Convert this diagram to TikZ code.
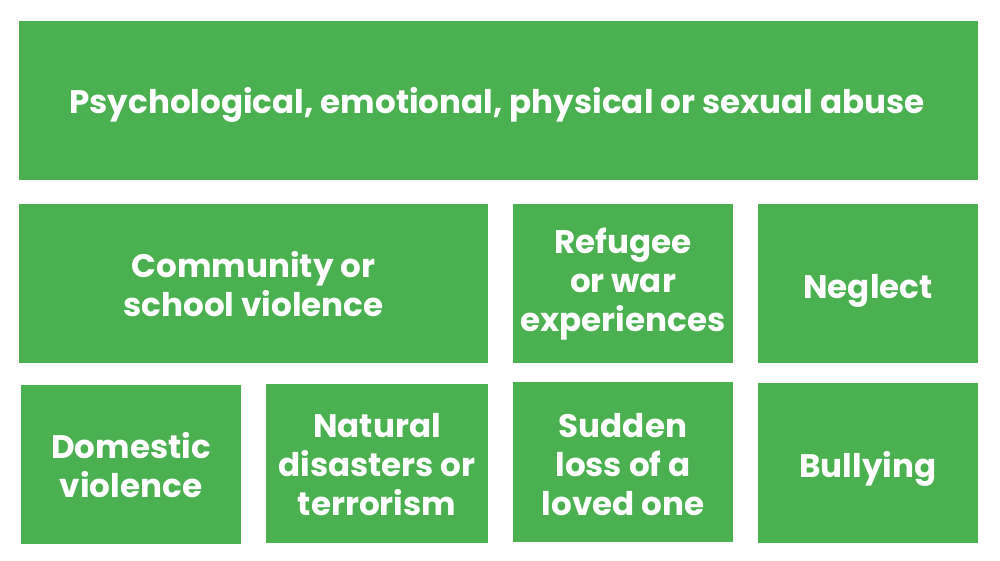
\documentclass[tikz,border=0pt]{standalone}
\usepackage{fontspec}
\setmainfont{Poppins}
\definecolor{boxgreen}{HTML}{4AB050}
\begin{document}
\begin{tikzpicture}[x=1pt,y=-1pt,
  cell/.style={fill=boxgreen,draw=none,inner sep=0pt},
  lbl/.style={text=white,font=\bfseries\fontsize{32.6}{39}\selectfont,align=center}]
\useasboundingbox (0,0) rectangle (1000,561);
\fill[boxgreen] (19,21) rectangle (978,180.5);
\node[lbl] (t1) at (497,105) {Psychological, emotional, physical or sexual abuse};
\fill[boxgreen] (19,204) rectangle (488,363);
\node[lbl] (t2) at (253.5,284) {Community or\\school violence};
\fill[boxgreen] (513,204) rectangle (733,363);
\node[lbl] (t3) at (623,284) {Refugee\\or war\\experiences};
\fill[boxgreen] (758,204) rectangle (978,363);
\node[lbl] (t4) at (868,291) {Neglect};
\fill[boxgreen] (21,385) rectangle (241,544);
\node[lbl] (t5) at (131,465) {Domestic\\violence};
\fill[boxgreen] (266,384) rectangle (488,543);
\node[lbl] (t6) at (377,465) {Natural\\disasters or\\terrorism};
\fill[boxgreen] (513,382) rectangle (733,542);
\node[lbl] (t7) at (623,465) {Sudden\\loss of a\\loved one};
\fill[boxgreen] (758,383) rectangle (978,543);
\node[lbl] (t8) at (868,469) {Bullying};
\end{tikzpicture}
\end{document}
